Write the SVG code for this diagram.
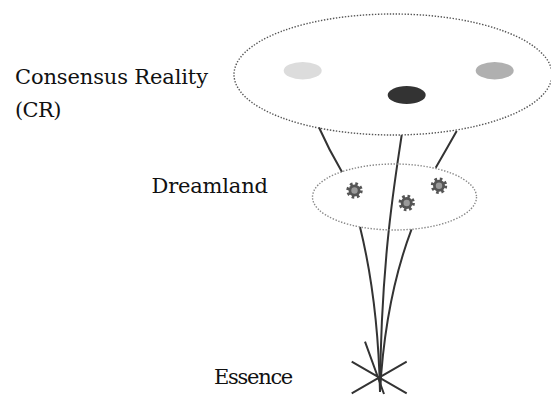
<svg xmlns="http://www.w3.org/2000/svg" width="551" height="397" viewBox="0 0 551 397">
<style>
.lbl{font-family:'DejaVu Serif',serif;font-size:21px;fill:#111}
.dot{fill:none;stroke:#555;stroke-width:1.4;stroke-dasharray:1.4 1.6}
.dot2{fill:none;stroke:#888;stroke-width:1.4;stroke-dasharray:1.4 1.6}
.ln{fill:none;stroke:#333;stroke-width:2;stroke-linecap:butt}
</style>
<defs>
<g id="gear">
<circle r="6.5" fill="none" stroke="#555" stroke-width="3.4" stroke-dasharray="2.5 2.6"/>
<circle r="6" fill="#555"/>
<circle r="3.2" fill="#9a9a9a"/>
</g>
</defs>
<g id="connectors">
<path class="ln" d="M319,127.5 Q329,150 342,172"/>
<path class="ln" d="M456.7,131 Q446,150 435.7,167.7"/>
<path class="ln" d="M401.7,135 C395,180 381,260 380,392"/>
<path class="ln" d="M360,227 Q378,300 380,392"/>
<path class="ln" d="M411.5,229.3 Q385,300 380,392"/>
<path class="ln" d="M351.7,361.7 L406.7,393.3 M406.7,361.7 L351.7,393.3 M365,341.7 L384,394"/>
</g>
<g id="cr">
<ellipse class="dot" cx="393" cy="74.5" rx="159" ry="60.5"/>
<ellipse cx="302.7" cy="70.7" rx="19" ry="8.7" fill="#dcdcdc"/>
<ellipse cx="494.7" cy="70.7" rx="19" ry="8.7" fill="#b0b0b0"/>
<ellipse cx="406.7" cy="95" rx="19" ry="9" fill="#333"/>
<text class="lbl" x="15" y="83.5" textLength="193">Consensus Reality</text>
<text class="lbl" x="15" y="116.7" textLength="46.5">(CR)</text>
</g>
<g id="dreamland">
<ellipse class="dot2" cx="394.5" cy="197" rx="82" ry="33"/>
<use href="#gear" x="354.5" y="190.5"/>
<use href="#gear" x="406.7" y="203"/>
<use href="#gear" x="439" y="185.7"/>
<text class="lbl" x="151.5" y="193.3" textLength="116.5">Dreamland</text>
</g>
<g id="essence">
<text class="lbl" x="214" y="384.3" textLength="79.3">Essence</text>
</g>
</svg>
